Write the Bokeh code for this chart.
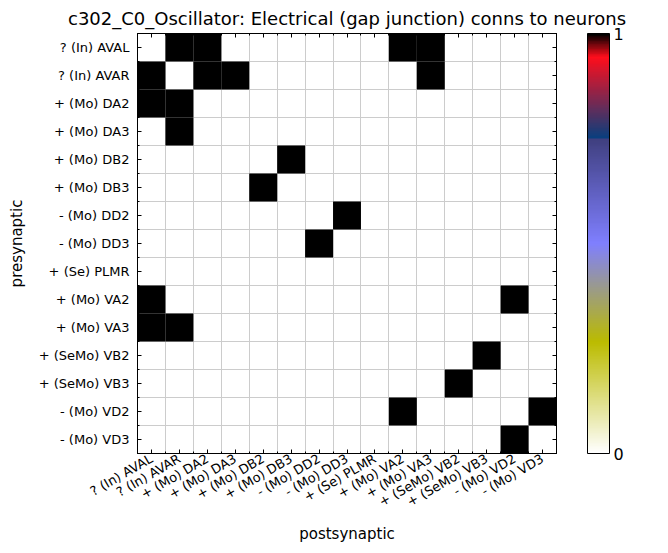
import numpy as np

from bokeh.plotting import figure
from bokeh.models import (LinearColorMapper, ColorBar, FixedTicker, LinearAxis,
                          ColumnDataSource, Range1d)
from bokeh.embed import file_html
from bokeh.resources import INLINE

#-------------- data ----------#
neurons = ["? (In) AVAL", "? (In) AVAR", "+ (Mo) DA2", "+ (Mo) DA3", "+ (Mo) DB2",
           "+ (Mo) DB3", "- (Mo) DD2", "- (Mo) DD3", "+ (Se) PLMR", "+ (Mo) VA2",
           "+ (Mo) VA3", "+ (SeMo) VB2", "+ (SeMo) VB3", "- (Mo) VD2", "- (Mo) VD3"]

# rows = presynaptic, cols = postsynaptic
conns = [
    [0, 1, 1, 0, 0, 0, 0, 0, 0, 1, 1, 0, 0, 0, 0],
    [1, 0, 1, 1, 0, 0, 0, 0, 0, 0, 1, 0, 0, 0, 0],
    [1, 1, 0, 0, 0, 0, 0, 0, 0, 0, 0, 0, 0, 0, 0],
    [0, 1, 0, 0, 0, 0, 0, 0, 0, 0, 0, 0, 0, 0, 0],
    [0, 0, 0, 0, 0, 1, 0, 0, 0, 0, 0, 0, 0, 0, 0],
    [0, 0, 0, 0, 1, 0, 0, 0, 0, 0, 0, 0, 0, 0, 0],
    [0, 0, 0, 0, 0, 0, 0, 1, 0, 0, 0, 0, 0, 0, 0],
    [0, 0, 0, 0, 0, 0, 1, 0, 0, 0, 0, 0, 0, 0, 0],
    [0, 0, 0, 0, 0, 0, 0, 0, 0, 0, 0, 0, 0, 0, 0],
    [1, 0, 0, 0, 0, 0, 0, 0, 0, 0, 0, 0, 0, 1, 0],
    [1, 1, 0, 0, 0, 0, 0, 0, 0, 0, 0, 0, 0, 0, 0],
    [0, 0, 0, 0, 0, 0, 0, 0, 0, 0, 0, 0, 1, 0, 0],
    [0, 0, 0, 0, 0, 0, 0, 0, 0, 0, 0, 1, 0, 0, 0],
    [0, 0, 0, 0, 0, 0, 0, 0, 0, 1, 0, 0, 0, 0, 1],
    [0, 0, 0, 0, 0, 0, 0, 0, 0, 0, 0, 0, 0, 1, 0],
]
#------------------------------#

#------------- colormap (gist_stern reversed, low value first) ------------#
def gist_stern_r(n=256):
    v = 1.0 - np.linspace(0, 1, n)
    r = np.interp(v, [0.0, 0.0547, 0.0547, 0.25, 0.25, 1.0], [0.0, 1.0, 1.0, 0.027, 0.25, 1.0])
    g = v
    b = np.interp(v, [0.0, 0.5, 0.735, 1.0], [0.0, 1.0, 0.0, 1.0])
    cols = []
    for rr, gg, bb in zip(r, g, b):
        cols.append("#%02x%02x%02x" % (int(rr * 255), int(gg * 255), int(bb * 255)))
    return cols

palette = gist_stern_r()
mapper = LinearColorMapper(palette=palette, low=0, high=1)
#--------------------------------------------------------------------------#

n = len(neurons)
xs, ys, vals = [], [], []
for i in range(n):
    for j in range(n):
        if conns[i][j] > 0:
            xs.append(j + 0.5)
            ys.append(i + 0.5)
            vals.append(conns[i][j])
src = ColumnDataSource(data=dict(x=xs, y=ys, v=vals))

p = figure(frame_width=419, frame_height=420, output_backend="svg", toolbar_location=None,
           x_range=Range1d(0, n), y_range=Range1d(n, 0),
           x_axis_location=None, y_axis_location=None,
           min_border_left=137, min_border_right=5, min_border_top=24, min_border_bottom=5)

p.title.text = "c302_C0_Oscillator: Electrical (gap junction) conns to neurons"
p.title.align = "center"
p.title.text_font = "DejaVu Sans"
p.title.text_font_size = "18px"
p.title.text_font_style = "normal"
p.title.text_color = "black"
p.title.offset = 0

p.rect(x="x", y="y", width=1, height=1, source=src,
       fill_color={"field": "v", "transform": mapper}, line_color=None)

centers = [k + 0.5 for k in range(n)]
edges = list(range(n + 1))
labels_map = {c: lab for c, lab in zip(centers, neurons)}
blank_map = {c: "" for c in centers}

def make_axis(loc, show_labels):
    ax = LinearAxis(ticker=FixedTicker(ticks=centers, minor_ticks=edges))
    ax.major_tick_in = 4
    ax.major_tick_out = 0
    ax.minor_tick_in = 2
    ax.minor_tick_out = 0
    ax.axis_line_color = "black"
    ax.major_label_text_font = "DejaVu Sans"
    ax.major_label_text_font_size = "13px"
    ax.major_label_text_color = "black"
    ax.axis_label_text_font = "DejaVu Sans"
    ax.axis_label_text_font_size = "15px"
    ax.axis_label_text_font_style = "normal"
    ax.axis_label_text_color = "black"
    if show_labels:
        ax.major_label_overrides = labels_map
    else:
        ax.major_label_overrides = blank_map
        ax.major_label_standoff = 0
    p.add_layout(ax, loc)
    return ax

xb = make_axis("below", True)
xb.axis_label = "postsynaptic"
xb.major_label_orientation = np.pi / 6
xb.major_label_standoff = 4
xb.axis_label_standoff = 6
yl = make_axis("left", True)
yl.axis_label = "presynaptic"
yl.major_label_standoff = 8
yl.axis_label_standoff = 10
make_axis("above", False)
make_axis("right", False)

p.xgrid.ticker = FixedTicker(ticks=edges)
p.ygrid.ticker = FixedTicker(ticks=edges)
p.xgrid.grid_line_color = "#cccccc"
p.ygrid.grid_line_color = "#cccccc"
p.outline_line_color = "black"

cb = ColorBar(color_mapper=mapper, ticker=FixedTicker(ticks=[0, 1]),
              width=22, height=420, padding=0, margin=0, location=(31, 0),
              major_tick_line_color=None, bar_line_color="black",
              major_label_text_font="DejaVu Sans", major_label_text_font_size="16px",
              major_label_text_color="black", border_line_color=None,
              background_fill_color=None, label_standoff=4)
p.add_layout(cb, "right")

open("out.html", "w").write(file_html(p, INLINE))
